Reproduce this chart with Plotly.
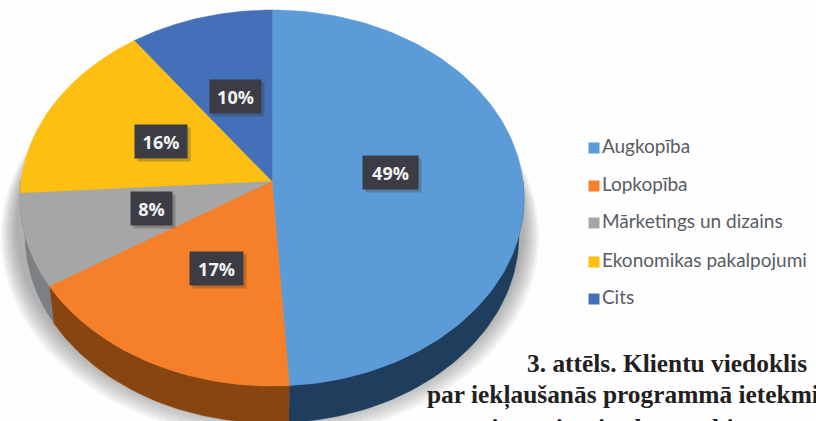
import numpy as np
import plotly.graph_objects as go

categories = ["Augkopība", "Lopkopība", "Mārketings un dizains", "Ekonomikas pakalpojumi", "Cits"]
values = [49, 17, 8, 16, 10]
top_colors = ["#5b9bd8", "#f6802a", "#a6a6a6", "#fdbf12", "#4470b9"]
wall_colors = ["#1f3e5e", "#88450f", "#7c7f84", "#a07a08", "#2b4775"]
label_pos = [(390, 172), (216, 268), (151, 208), (161, 141), (235, 96)]
label_size = [(55, 33), (53, 33), (41, 33), (52, 33), (51, 33)]
caption = [("3. attēls. Klientu viedoklis", 525, 363, "middle"),
           ("par iekļaušanās programmā ietekmi", 425, 395, "middle"),
           ("uz viņu saimniecības un biznesa attīstību", 445, 412, "top")]

# Tilted disc seen in perspective: apex position, radii, foreshortening, wall height
CX, CY, RX, RY, K, DEPTH = 272, 181, 251, 186.5, 0.0904, 37


def rim(t, rx=RX, ry=RY, dy=0.0):
    u, v = np.sin(t), np.cos(t)
    d = 1 + K * v
    return CX + rx * u / d, CY - ry * v / d + dy


fig = go.Figure()

# soft shadow under the pie
tt = np.linspace(0, 2 * np.pi, 241)
for grow in range(24, 0, -3):
    x, y = rim(tt, RX + grow * 0.7, RY + grow * 0.6, DEPTH * 0.75 + grow * 0.4)
    fig.add_trace(go.Scatter(x=x - 2, y=y, mode="lines", fill="toself", line=dict(width=0),
                             fillcolor="rgba(90,90,90,0.07)", hoverinfo="skip", showlegend=False))

shares = np.array(values) / sum(values) * 2 * np.pi
ends = np.cumsum(shares)
starts = ends - shares

# side wall: only the part of each slice facing the viewer
for s, e, col in zip(starts, ends, wall_colors):
    a, b = max(s, np.pi / 2), min(e, 3 * np.pi / 2)
    if a >= b:
        continue
    t = np.linspace(a, b, 60)
    x1, y1 = rim(t)
    x2, y2 = rim(t, RX * 0.98, RY, DEPTH)
    fig.add_trace(go.Scatter(x=np.r_[x1, x2[::-1]], y=np.r_[y1, y2[::-1]], mode="lines", fill="toself",
                             line=dict(width=0.5, color=col), fillcolor=col, hoverinfo="skip", showlegend=False))

# top faces
for s, e, col, cat, v in zip(starts, ends, top_colors, categories, values):
    t = np.linspace(s, e, 120)
    x, y = rim(t)
    fig.add_trace(go.Scatter(x=np.r_[CX, x, CX], y=np.r_[CY, y, CY], mode="lines", fill="toself",
                             line=dict(width=0.5, color=col), fillcolor=col, name=cat,
                             text=f"{cat}: {v}%", hoverinfo="text", showlegend=False))

# legend drawn as square markers with text
legend_y = [148, 186, 223, 262, 299]
fig.add_trace(go.Scatter(x=[594] * 5, y=legend_y, mode="markers+text",
                         marker=dict(symbol="square", size=11, color=top_colors, line=dict(width=0)),
                         text=categories, textposition="middle right",
                         textfont=dict(family="Lato", size=19, color="#585c64"),
                         hoverinfo="skip", showlegend=False))

annotations = []
for v, (x, y), (w, h) in zip(values, label_pos, label_size):
    annotations.append(dict(x=x + 3, y=y + 3, xref="x", yref="y", text=" ", showarrow=False, width=w, height=h,
                            bgcolor="rgba(60,50,30,0.28)", borderpad=0))
    annotations.append(dict(x=x, y=y, xref="x", yref="y", text=f"<b>{v}%</b>", showarrow=False, width=w, height=h,
                            bgcolor="#3b3c44", borderpad=0,
                            font=dict(family="Open Sans", size=18, color="#f2f2f2")))
for text, x, y, anchor in caption:
    annotations.append(dict(x=x, y=y, xref="x", yref="y", xanchor="left", yanchor=anchor, text=f"<b>{text}</b>",
                            showarrow=False, align="left",
                            font=dict(family="Liberation Serif", size=25.4, color="#231f20")))

fig.update_layout(
    width=816, height=421, margin=dict(l=0, r=0, t=0, b=0),
    paper_bgcolor="#fefefe", plot_bgcolor="#fefefe", showlegend=False,
    xaxis=dict(range=[0, 816], visible=False, fixedrange=True),
    yaxis=dict(range=[421, 0], visible=False, fixedrange=True),
    annotations=annotations,
)
fig.write_html("out.html", config=dict(displayModeBar=False),
               post_script="document.body.style.margin='0';document.body.style.overflow='hidden';")
